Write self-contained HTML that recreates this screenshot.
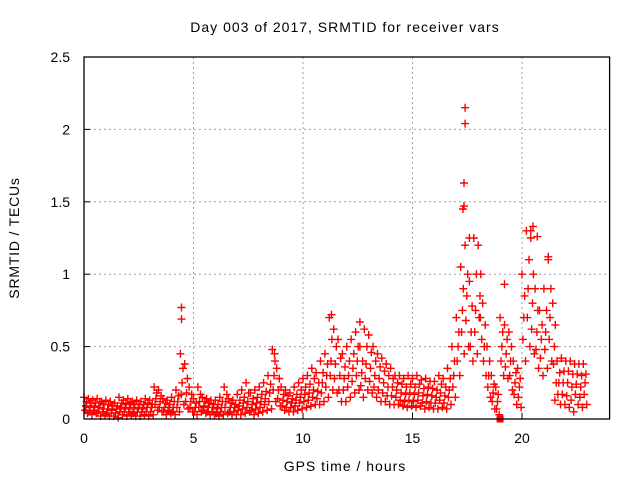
<!DOCTYPE html>
<html><head><meta charset="utf-8"><style>
html,body{margin:0;padding:0;background:#fff;}
svg{display:block;font-family:"Liberation Sans",sans-serif;}
</style></head><body>
<svg id="chart" width="640" height="480">
<text x="345" y="32" font-size="14" letter-spacing="1" text-anchor="middle" fill="#000">Day 003 of 2017, SRMTID for receiver vars</text>
<text x="345" y="471" font-size="14" letter-spacing="1" text-anchor="middle" fill="#000">GPS time / hours</text>
<text x="19" y="238" font-size="14" letter-spacing="0.8" text-anchor="middle" fill="#000" transform="rotate(-90 19 238)">SRMTID / TECUs</text>
<g id="grid"></g>
<g id="ticks"></g>
<g id="marks"></g>
<rect x="84" y="57" width="525.6" height="362" fill="none" stroke="#000" stroke-width="1.3"/>
</svg>
<script>
const xTicks = [0,5,10,15,20];
const yTicks = [0,0.5,1,1.5,2,2.5];
const yTickLabels = ["0","0.5","1","1.5","2","2.5"];
const tStep = 0.2;
const hiVals = [
.15,.14,.13,.14,.12, .13,.12,.11,.15,.13, .14,.12,.13,.12,.14, .13,.22,.20,.14,.13,
.15,.20,.45,.38,.22, .14,.22,.15,.14,.13, .13,.15,.22,.14,.13, .17,.20,.25,.18,.20,
.22,.25,.30,.48,.35, .22,.20,.18,.22,.25, .28,.30,.35,.32,.40, .45,.70,.62,.55,.45,
.50,.55,.60,.50,.62, .58,.50,.45,.42,.38, .35,.30,.30,.28,.30, .28,.30,.27,.28,.26,
.26,.30,.28,.35,.50, .70,1.05,1.20,.95,1.25, 1.20,.80,.50,.30,.22, .70,.65,.60,.40,.35,
1.00,1.30,1.25,.90,.75, .90,1.10,.80,.40,.42, .40,.40,.38,.38,.38];
const upVals = [
.12,.11,.11,.11,.10, .10,.09,.09,.11,.10, .11,.10,.10,.10,.11, .10,.18,.16,.11,.10,
.12,.16,.35,.28,.17, .11,.17,.12,.11,.10, .10,.12,.17,.11,.10, .13,.15,.18,.14,.15,
.17,.19,.24,.40,.28, .17,.16,.14,.17,.20, .22,.24,.28,.25,.32, .38,.55,.50,.42,.36,
.40,.45,.50,.40,.50, .46,.40,.36,.33,.30, .28,.25,.24,.22,.24, .22,.24,.21,.22,.21,
.20,.24,.22,.28,.40, .60,.90,1.00,.78,1.00, 1.00,.65,.40,.24,.17, .60,.55,.50,.32,.28,
.85,1.10,1.00,.75,.65, .75,.90,.65,.32,.33, .33,.31,.31,.30,.31];
const midVals = [
.09,.08,.09,.08,.07, .07,.06,.07,.08,.07, .08,.07,.08,.07,.08, .08,.14,.12,.08,.08,
.08,.12,.25,.18,.12, .08,.12,.09,.08,.08, .07,.08,.12,.08,.08, .09,.11,.12,.10,.11,
.12,.14,.18,.30,.20, .13,.12,.11,.13,.15, .17,.18,.20,.19,.25, .30,.40,.38,.30,.28,
.30,.35,.40,.32,.38, .35,.30,.28,.25,.22, .22,.20,.18,.17,.18, .17,.18,.16,.17,.16,
.15,.18,.16,.20,.30, .50,.75,.85,.60,.75, .85,.50,.30,.18,.12, .50,.45,.40,.25,.22,
.70,.90,.80,.60,.55, .60,.70,.50,.25,.25, .25,.22,.24,.22,.25];
const dnVals = [
.06,.05,.06,.05,.05, .04,.04,.04,.05,.05, .05,.04,.05,.05,.05, .05,.10,.08,.05,.06,
.05,.08,.17,.12,.08, .05,.08,.06,.05,.05, .04,.05,.08,.05,.05, .06,.07,.08,.06,.07,
.08,.10,.12,.20,.14, .09,.08,.08,.09,.11, .12,.13,.15,.14,.18, .22,.30,.28,.20,.20,
.22,.26,.30,.23,.28, .26,.22,.20,.18,.16, .16,.15,.13,.12,.13, .12,.13,.11,.12,.11,
.11,.13,.11,.15,.22, .40,.60,.68,.50,.60, .70,.40,.22,.12,.07, .40,.36,.30,.17,.15,
.55,.70,.62,.48,.42, .48,.55,.38,.17,.17, .16,.13,.17,.15,.17];
const loVals = [
.04,.03,.04,.02,.03, .02,.02,.01,.03,.02, .03,.02,.02,.03,.02, .03,.06,.05,.03,.04,
.03,.05,.10,.07,.05, .03,.05,.04,.03,.03, .02,.03,.04,.03,.03, .03,.04,.05,.03,.04,
.05,.06,.07,.12,.09, .06,.05,.05,.06,.07, .08,.09,.10,.10,.12, .15,.20,.18,.12,.12,
.15,.18,.20,.15,.20, .18,.15,.12,.12,.10, .10,.10,.09,.08,.09, .08,.09,.07,.08,.07,
.07,.08,.07,.10,.15, .30,.45,.50,.40,.45, .55,.30,.15,.07,.03, .30,.28,.20,.10,.08,
.40,.50,.45,.35,.30, .35,.40,.25,.10,.10, .08,.05,.10,.08,.10];
const outlierT = [4.45,4.45,17.4,17.4,17.35,17.35,17.3,19.2,20.7,20.5,21.5,8.7,11.3,12.6,17.6,18.0,18.1,20.4,21.2];
const outlierV = [0.77,0.69,2.15,2.04,1.63,1.47,1.45,0.93,1.26,1.33,0.13,0.45,0.72,0.67,1.25,1.20,0.70,1.30,1.12];
const squareT = [19.0];
const squareV = [0.0];

const NS="http://www.w3.org/2000/svg";
const X0=84, X1=609.6, Y0=419, Y1=57, XMAX=24, YMAX=2.5;
function xs(t){return X0+(t/XMAX)*(X1-X0);}
function ys(v){return Y0-(v/YMAX)*(Y0-Y1);}
const grid=document.getElementById('grid'), ticks=document.getElementById('ticks'), marks=document.getElementById('marks');
function mk(tag,attrs,parent){const e=document.createElementNS(NS,tag);for(const k in attrs)e.setAttribute(k,attrs[k]);parent.appendChild(e);return e;}
xTicks.forEach(t=>{
  if(t>0){const g=mk('line',{x1:xs(t),x2:xs(t),y1:Y0,y2:Y1,stroke:'#a0a0a0','stroke-dasharray':'2,3','stroke-width':1},grid);
  
  }
  const tk=mk('line',{x1:xs(t),x2:xs(t),y1:Y0,y2:Y0-6,stroke:'#000'},ticks);
  
  
  const tx=mk('text',{x:xs(t),y:443,'font-size':14,'text-anchor':'middle'},ticks);tx.textContent=String(t);
  
  
});
yTicks.forEach((v,i)=>{
  if(v>0&&v<YMAX){const g=mk('line',{x1:X0,x2:X1,y1:ys(v),y2:ys(v),stroke:'#a0a0a0','stroke-dasharray':'2,3','stroke-width':1},grid);
  
  }
  const tk=mk('line',{x1:X0,x2:X0+6,y1:ys(v),y2:ys(v),stroke:'#000'},ticks);
  
  
  const tx=mk('text',{x:70,y:ys(v)+5,'font-size':14,'text-anchor':'end'},ticks);tx.textContent=yTickLabels[i];
  
  
});
let d='';
function plus(t,v){const x=xs(t),y=ys(v);d+=`M${(x-4).toFixed(1)} ${y.toFixed(1)}h8M${x.toFixed(1)} ${(y-4).toFixed(1)}v8`;}
const order=[hiVals,dnVals,midVals,upVals,loVals];
order.forEach((arr,s)=>{arr.forEach((v,i)=>{plus(i*tStep+s*0.04,v);});});
outlierT.forEach((t,i)=>plus(t,outlierV[i]));
const p=mk('path',{d:d,stroke:'#ff0000','stroke-width':1.4,fill:'none'},marks);


squareT.forEach((t,i)=>{const r=mk('rect',{x:xs(t)-3.5,y:ys(squareV[i])-3.5,width:7,height:7,fill:'#ff0000'},marks);
  
  });
</script>
</body></html>
